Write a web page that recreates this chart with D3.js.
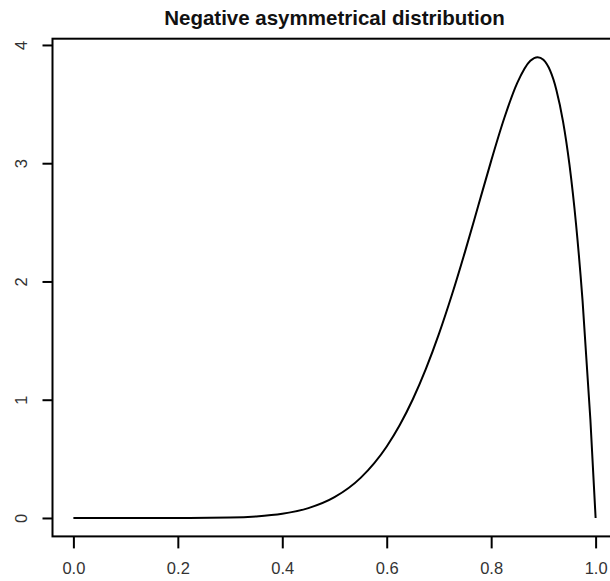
<!DOCTYPE html>
<html><head><meta charset="utf-8">
<script src="https://cdn.jsdelivr.net/npm/d3@7"></script>
<style>html,body{margin:0;padding:0;background:#fff;overflow:hidden}</style>
</head><body>
<svg id="c" width="610" height="581"></svg>
<script>
const title = "Negative asymmetrical distribution";
const xs = [0, 0.1, 0.2, 0.3, 0.35, 0.4, 0.45, 0.5, 0.55, 0.6, 0.625, 0.65, 0.675, 0.7, 0.725, 0.75, 0.775, 0.8, 0.825, 0.85, 0.875, 0.889, 0.9, 0.925, 0.9375, 0.95, 0.9625, 0.975, 0.99, 1.0];
const ys = [0, 0.0000, 0.0002, 0.0041, 0.0132, 0.0354, 0.0832, 0.1758, 0.3391, 0.6047, 0.7858, 1.0037, 1.2605, 1.5565, 1.8892, 2.2525, 2.6354, 3.0199, 3.3800, 3.6786, 3.8656, 3.8970, 3.8742, 3.6177, 3.3565, 2.9854, 2.4859, 1.8375, 0.8305, 0];
const xTicks = [0, 0.2, 0.4, 0.6, 0.8, 1.0];
const yTicks = [0, 1, 2, 3, 4];

const svg = d3.select("#c");
const pL = 52.5, pR = 616.5, pT = 38.7, pB = 536.4;
const xmin = 0, xmax = 1, ymin = 0, ymax = d3.max(ys);
const xr = (xmax - xmin) * 0.04, yr = (ymax - ymin) * 0.04;
const x = d3.scaleLinear().domain([xmin - xr, xmax + xr]).range([pL, pR]);
const y = d3.scaleLinear().domain([ymin - yr, ymax + yr]).range([pB, pT]);
const font = "Liberation Sans, Arial, sans-serif";

// title
svg.append("text").attr("x", (pL + pR) / 2).attr("y", 25)
  .attr("text-anchor", "middle").attr("font-family", font)
  .attr("font-weight", "bold").attr("font-size", 20.5).attr("fill", "#111").text(title);

// curve
const data = xs.map((d, i) => [d, ys[i]]);
svg.append("path").datum(data)
  .attr("d", d3.line().x(d => x(d[0])).y(d => y(d[1])).curve(d3.curveMonotoneX))
  .attr("fill", "none").attr("stroke", "#000").attr("stroke-width", 2);

// box
svg.append("rect").attr("x", pL).attr("y", pT).attr("width", pR - pL).attr("height", pB - pT)
  .attr("fill", "none").attr("stroke", "#000").attr("stroke-width", 2);

// x axis
const xAxis = d3.axisBottom(x).tickValues(xTicks).tickFormat(d3.format(".1f")).tickSize(12).tickPadding(14);
const gx = svg.append("g").attr("transform", `translate(0,${pB})`).call(xAxis);
gx.select(".domain").remove();
gx.selectAll("line").attr("stroke", "#000").attr("stroke-width", 2);
gx.selectAll("text").attr("font-family", font).attr("font-size", 16.5).attr("fill", "#333");

// y axis
const yAxis = d3.axisLeft(y).tickValues(yTicks).tickFormat(d3.format("d")).tickSize(10).tickPadding(0);
const gy = svg.append("g").attr("transform", `translate(${pL},0)`).call(yAxis);
gy.select(".domain").remove();
gy.selectAll("line").attr("stroke", "#000").attr("stroke-width", 2);
gy.selectAll("text").attr("font-family", font).attr("font-size", 16.5).attr("fill", "#333")
  .attr("x", null).attr("text-anchor", "middle")
  .attr("transform", "translate(-31.5,0) rotate(-90)").attr("dy", "0.35em");
</script>
</body></html>
